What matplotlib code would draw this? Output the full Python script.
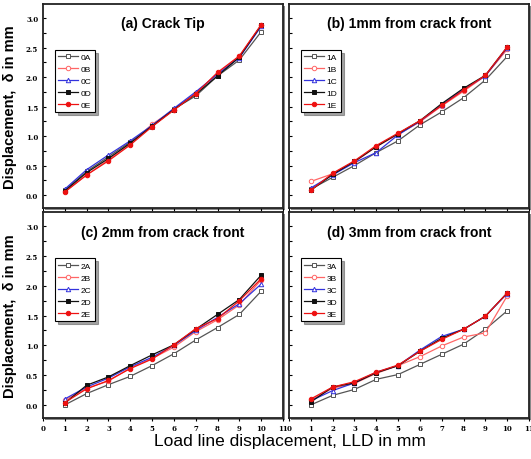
import matplotlib
matplotlib.use("Agg")
import matplotlib.pyplot as plt
from matplotlib.patches import Rectangle
from matplotlib.ticker import MultipleLocator

x = [1, 2, 3, 4, 5, 6, 7, 8, 9, 10]

# Panel (a) Crack tip
a_A = [0.08, 0.40, 0.65, 0.90, 1.16, 1.46, 1.68, 2.02, 2.29, 2.77]
a_B = [0.06, 0.34, 0.60, 0.87, 1.20, 1.45, 1.73, 2.06, 2.35, 2.88]
a_C = [0.10, 0.43, 0.68, 0.92, 1.18, 1.47, 1.75, 2.05, 2.33, 2.86]
a_D = [0.07, 0.38, 0.62, 0.88, 1.17, 1.45, 1.71, 2.02, 2.34, 2.88]
a_E = [0.05, 0.34, 0.58, 0.85, 1.16, 1.44, 1.72, 2.08, 2.36, 2.89]

# Panel (b) 1mm from crack front
b_A = [0.10, 0.30, 0.50, 0.72, 0.92, 1.19, 1.41, 1.65, 1.95, 2.35]
b_B = [0.23, 0.36, 0.56, 0.82, 1.03, 1.24, 1.51, 1.76, 2.02, 2.47]
b_C = [0.12, 0.34, 0.55, 0.72, 1.02, 1.25, 1.53, 1.79, 2.02, 2.50]
b_D = [0.08, 0.35, 0.57, 0.82, 1.04, 1.26, 1.55, 1.81, 2.03, 2.51]
b_E = [0.08, 0.37, 0.58, 0.84, 1.05, 1.26, 1.52, 1.78, 2.03, 2.51]

# Panel (c) 2mm from crack front
c_A = [0.00, 0.19, 0.34, 0.48, 0.66, 0.86, 1.09, 1.30, 1.52, 1.91]
c_B = [0.08, 0.28, 0.40, 0.62, 0.78, 0.97, 1.23, 1.43, 1.68, 2.10]
c_C = [0.10, 0.30, 0.45, 0.64, 0.80, 1.00, 1.25, 1.47, 1.70, 2.03]
c_D = [0.03, 0.33, 0.47, 0.66, 0.84, 1.01, 1.27, 1.52, 1.77, 2.18]
c_E = [0.04, 0.27, 0.41, 0.61, 0.77, 1.01, 1.28, 1.45, 1.75, 2.12]

# Panel (d) 3mm from crack front
d_A = [0.00, 0.16, 0.26, 0.43, 0.51, 0.68, 0.85, 1.02, 1.27, 1.58]
d_B = [0.08, 0.28, 0.36, 0.53, 0.66, 0.81, 0.99, 1.14, 1.21, 1.83]
d_C = [0.07, 0.24, 0.37, 0.55, 0.66, 0.92, 1.15, 1.27, 1.49, 1.87]
d_D = [0.05, 0.30, 0.37, 0.54, 0.66, 0.90, 1.12, 1.27, 1.49, 1.88]
d_E = [0.10, 0.30, 0.39, 0.55, 0.67, 0.90, 1.10, 1.27, 1.49, 1.88]

titles = ["(a) Crack Tip", "(b) 1mm from crack front",
          "(c) 2mm from crack front", "(d) 3mm from crack front"]
prefixes = ["0", "1", "2", "3"]
panel_data = [[a_A, a_B, a_C, a_D, a_E], [b_A, b_B, b_C, b_D, b_E],
              [c_A, c_B, c_C, c_D, c_E], [d_A, d_B, d_C, d_D, d_E]]
suffixes = ["A", "B", "C", "D", "E"]
x_ticks = list(range(0, 12))
y_ticks = [0.0, 0.5, 1.0, 1.5, 2.0, 2.5, 3.0]

styles = [
    dict(color="#555555", marker="s", mfc="white", mec="#555555"),
    dict(color="#ff6666", marker="o", mfc="white", mec="#ff6666"),
    dict(color="#3333dd", marker="^", mfc="white", mec="#3333dd"),
    dict(color="#111111", marker="s", mfc="#111111", mec="#111111"),
    dict(color="#ee1111", marker="o", mfc="#ee1111", mec="#ee1111"),
]

SANS = "Liberation Sans"
fig = plt.figure(figsize=(5.31, 4.60), dpi=100)
W, H = 531, 460
boxes = [(43, 5, 283, 209), (289, 5, 529, 209),
         (43, 213, 283, 419), (289, 213, 529, 419)]

tickfont = dict(family="DejaVu Serif", size=5, weight="bold")

for i, (l, t, r, b) in enumerate(boxes):
    ax = fig.add_axes([l / W, 1 - b / H, (r - l) / W, (b - t) / H])
    fig.patches.append(Rectangle(((l + 2) / W, 1 - (b + 2) / H), (r - l) / W, (b - t) / H,
                                 transform=fig.transFigure, facecolor="#888888",
                                 edgecolor="none", zorder=-1))
    ax.set_facecolor("white")
    for k in range(5):
        st = styles[k]
        ax.plot(x, panel_data[i][k], color=st["color"], marker=st["marker"],
                mfc=st["mfc"], mec=st["mec"], ms=3.2, lw=0.9, mew=0.7,
                label=prefixes[i] + suffixes[k])
    ax.set_xlim(0, 11)
    ax.set_xticks(x_ticks)
    ax.set_yticks(y_ticks)
    ax.yaxis.set_minor_locator(MultipleLocator(0.25))
    ax.set_ylim(-0.22, 3.24)
    ax.tick_params(axis="y", which="both", direction="in", length=2.5, width=0.8, left=True, right=False)
    ax.tick_params(axis="x", direction="out", length=2.5, width=0.8, pad=2)
    for s in ax.spines.values():
        s.set_linewidth(1.3)
        s.set_color("#222222")
    if i % 2 == 0:
        ax.set_yticklabels([f"{v:.1f}" for v in y_ticks], fontdict=tickfont)
    else:
        ax.set_yticklabels([])
    if i >= 2:
        ax.set_xticklabels([str(v) for v in x_ticks], fontdict=tickfont)
    else:
        ax.set_xticklabels([])
    ax.text(0.5, 0.905, titles[i], transform=ax.transAxes, ha="center", va="center",
            fontsize=10, fontweight="bold", family=SANS)
    leg = ax.legend(loc="upper left", bbox_to_anchor=(0.05, 0.775),
                    prop=dict(family=SANS, size=6),
                    frameon=True, fancybox=False, shadow=True, handlelength=2.4,
                    borderpad=0.4, labelspacing=0.5, handletextpad=0.3,
                    borderaxespad=0)
    leg.get_frame().set_edgecolor("black")
    leg.get_frame().set_linewidth(0.8)

fig.text(10 / W, 1 - 107 / H, "Displacement,  δ in mm", rotation=90, ha="center",
         va="center", fontsize=10.5, fontweight="bold", family=SANS)
fig.text(10 / W, 1 - 316 / H, "Displacement,  δ in mm", rotation=90, ha="center",
         va="center", fontsize=10.5, fontweight="bold", family=SANS)
fig.text(290 / W, 1 - 442 / H, "Load line displacement, LLD in mm", ha="center",
         va="center", fontsize=12.5, family=SANS)

fig.savefig("out.png", dpi=100)
